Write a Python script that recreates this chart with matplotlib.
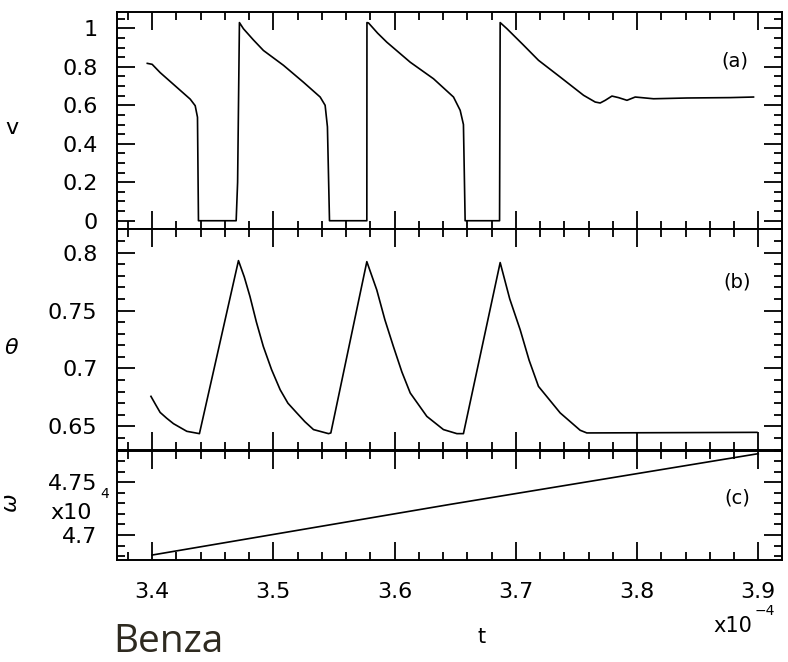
import matplotlib
matplotlib.use("Agg")
import matplotlib.pyplot as plt
from matplotlib.ticker import MultipleLocator, FormatStrFormatter

# time in units of 1e-4
t_v = [3.396, 3.400, 3.4066, 3.4314, 3.4355, 3.4374, 3.4382, 3.4693, 3.4705, 3.472,
       3.4753, 3.4835, 3.4918, 3.5083, 3.5248, 3.5386, 3.5427, 3.5446, 3.5463, 3.5771,
       3.5772, 3.5785, 3.5860, 3.5936, 3.6129, 3.6321, 3.6486, 3.6541, 3.6568, 3.6582,
       3.6866, 3.6871, 3.6927, 3.7060, 3.7187, 3.7366, 3.7559, 3.7655, 3.7696, 3.7738,
       3.7793, 3.7847, 3.7917, 3.7985, 3.8136, 3.8412, 3.8769, 3.8961]
v = [0.818, 0.813, 0.77, 0.632, 0.598, 0.538, 0.0, 0.0, 0.2, 1.03,
     0.998, 0.94, 0.885, 0.808, 0.72, 0.643, 0.6, 0.488, 0.0, 0.0,
     1.03, 1.028, 0.975, 0.928, 0.824, 0.738, 0.643, 0.574, 0.50, 0.0,
     0.0, 1.03, 0.998, 0.915, 0.834, 0.747, 0.652, 0.617, 0.612, 0.626,
     0.648, 0.640, 0.626, 0.643, 0.634, 0.638, 0.640, 0.643]

t_theta = [3.399, 3.4030, 3.4066, 3.4120, 3.4176, 3.4286, 3.4390, 3.4712, 3.4760, 3.4807,
           3.4860, 3.4917, 3.4985, 3.5056, 3.5120, 3.5193, 3.5260, 3.5331, 3.5455, 3.5474,
           3.5771, 3.5853, 3.5920, 3.5990, 3.6060, 3.6129, 3.6266, 3.6403, 3.6514, 3.6568,
           3.6871, 3.6950, 3.7036, 3.7110, 3.7187, 3.7366, 3.7531, 3.7586, 3.8989]
theta = [0.6759, 0.6685, 0.662, 0.657, 0.6523, 0.6457, 0.6437, 0.7931, 0.779, 0.7621,
         0.740, 0.719, 0.699, 0.6816, 0.670, 0.6616, 0.654, 0.6472, 0.6437, 0.6443,
         0.7922, 0.7678, 0.742, 0.719, 0.697, 0.6788, 0.6586, 0.6472, 0.6437, 0.6437,
         0.7914, 0.760, 0.7334, 0.707, 0.6845, 0.6616, 0.6466, 0.6443, 0.6448]

# omega in units of 1e4
t_w = [3.400, 3.646, 3.900]
omega = [4.681, 4.729, 4.777]

W, H = 788, 662
fig = plt.figure(figsize=(W / 100, H / 100), dpi=100)

def rect(top, bottom):
    return [117 / W, 1 - bottom / H, (782 - 117) / W, (bottom - top) / H]

ax_a = fig.add_axes(rect(12, 229))
ax_b = fig.add_axes(rect(229, 449.5))
ax_c = fig.add_axes(rect(450.5, 560))

for ax in (ax_a, ax_b, ax_c):
    ax.set_xlim(3.371, 3.9196)
    ax.xaxis.set_major_locator(MultipleLocator(0.1))
    ax.xaxis.set_minor_locator(MultipleLocator(0.02))
    ax.tick_params(which="both", direction="in", top=True, right=True, width=1.3)
    ax.tick_params(which="major", length=13)
    ax.tick_params(which="minor", length=6)
    ax.tick_params(axis="y", which="major", length=13, labelsize=16, pad=14)
    ax.tick_params(axis="x", labelsize=16, pad=16)
    ax.yaxis.set_major_formatter(FormatStrFormatter("%g"))
    ax.xaxis.set_major_formatter(FormatStrFormatter("%g"))
    for s in ax.spines.values():
        s.set_linewidth(1.4)

ax_a.plot(t_v, v, color="black", lw=1.2)
ax_a.set_ylim(-0.043, 1.085)
ax_a.yaxis.set_major_locator(MultipleLocator(0.2))
ax_a.yaxis.set_minor_locator(MultipleLocator(0.05))
ax_a.tick_params(labelbottom=False)

ax_b.plot(t_theta, theta, color="black", lw=1.2)
ax_b.set_ylim(0.630, 0.8204)
ax_b.yaxis.set_major_locator(MultipleLocator(0.05))
ax_b.yaxis.set_minor_locator(MultipleLocator(0.01))
ax_b.tick_params(labelbottom=False)

ax_c.plot(t_w, omega, color="black", lw=1.2)
ax_c.set_ylim(4.6763, 4.780)
ax_c.yaxis.set_major_locator(MultipleLocator(0.05))
ax_c.yaxis.set_minor_locator(MultipleLocator(0.01))

def ftext(x, y, s, **kw):
    fig.text(x / W, 1 - y / H, s, ha="center", va="center", **kw)

ftext(735, 61, "(a)", fontsize=14)
ftext(737, 282, "(b)", fontsize=14)
ftext(737, 498, "(c)", fontsize=14)

ftext(12, 128, "v", fontsize=16)
ftext(12, 348, r"$\theta$", fontsize=16)
ftext(11, 503, r"$\omega$", fontsize=16, rotation=90)
ftext(71, 513, "x10", fontsize=16)
ftext(105, 494, "4", fontsize=10)

ftext(482, 637, "t", fontsize=15)
ftext(733, 626, "x10", fontsize=15)
ftext(765, 611, "\u22124", fontsize=10)

fig.text(113 / W, 1 - 642 / H, "Benza", ha="left", va="center",
         fontsize=28, family="Open Sans", color="#2e2a20")

fig.savefig("out.png", dpi=100)
